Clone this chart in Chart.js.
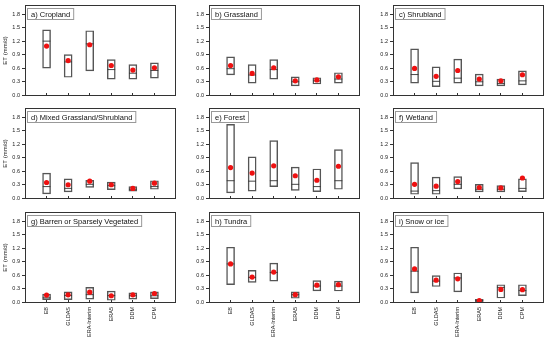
<!DOCTYPE html>
<html>
<head>
<meta charset="utf-8">
<script src="https://cdn.jsdelivr.net/npm/chart.js@4.4.0/dist/chart.umd.min.js"></script>
<style>
  body { margin: 0; background: #fff; width: 550px; height: 341px; position: relative; overflow: hidden; }
  .p { position: absolute; }
</style>
</head>
<body>
<script>
// ET by land cover: box = range, line = median, red dot = mean

const products = ['EB', 'GLDAS', 'ERA-Interim', 'ERA5', 'DDM', 'CPM'];
const yTicks = [0, 0.15, 0.3, 0.45, 0.6, 0.75, 0.9, 1.05, 1.2, 1.35, 1.5, 1.65, 1.8];
const yLabelled = [0, 0.3, 0.6, 0.9, 1.2, 1.5, 1.8];

// a) Cropland
const croplandLow = [0.60, 0.40, 0.54, 0.36, 0.36, 0.38];
const croplandHigh = [1.45, 0.90, 1.43, 0.79, 0.68, 0.72];
const croplandMedian = [1.20, 0.74, 1.14, 0.57, 0.49, 0.55];
const croplandMean = [1.09, 0.77, 1.12, 0.66, 0.56, 0.61];

// b) Grassland
const grasslandLow = [0.45, 0.27, 0.36, 0.21, 0.25, 0.27];
const grasslandHigh = [0.85, 0.68, 0.79, 0.41, 0.39, 0.50];
const grasslandMedian = [0.59, 0.45, 0.57, 0.30, 0.32, 0.36];
const grasslandMean = [0.66, 0.485, 0.61, 0.32, 0.34, 0.41];

// c) Shrubland
const shrublandLow = [0.27, 0.19, 0.27, 0.21, 0.21, 0.23];
const shrublandHigh = [1.03, 0.63, 0.80, 0.47, 0.36, 0.54];
const shrublandMedian = [0.46, 0.31, 0.38, 0.30, 0.26, 0.32];
const shrublandMean = [0.595, 0.42, 0.55, 0.36, 0.32, 0.455];

// d) Mixed Grassland/Shrubland
const mixedLow = [0.10, 0.14, 0.24, 0.19, 0.16, 0.20];
const mixedHigh = [0.56, 0.43, 0.40, 0.36, 0.26, 0.39];
const mixedMedian = [0.26, 0.22, 0.31, 0.28, 0.20, 0.26];
const mixedMean = [0.35, 0.30, 0.38, 0.30, 0.22, 0.335];

// e) Forest
const forestLow = [0.12, 0.16, 0.26, 0.175, 0.15, 0.20];
const forestHigh = [1.64, 0.92, 1.28, 0.69, 0.65, 1.08];
const forestMedian = [0.39, 0.38, 0.39, 0.31, 0.26, 0.39];
const forestMean = [0.68, 0.56, 0.72, 0.50, 0.40, 0.71];

// f) Wetland
const wetlandLow = [0.09, 0.09, 0.21, 0.14, 0.14, 0.15];
const wetlandHigh = [0.79, 0.47, 0.48, 0.31, 0.28, 0.43];
const wetlandMedian = [0.16, 0.17, 0.31, 0.20, 0.20, 0.22];
const wetlandMean = [0.31, 0.27, 0.37, 0.24, 0.23, 0.45];

// g) Barren or Sparsely Vegetated
const barrenLow = [0.06, 0.06, 0.07, 0.045, 0.07, 0.08];
const barrenHigh = [0.18, 0.23, 0.33, 0.25, 0.21, 0.23];
const barrenMedian = [0.10, 0.15, 0.17, 0.15, 0.145, 0.145];
const barrenMean = [0.16, 0.165, 0.225, 0.145, 0.165, 0.195];

// h) Tundra
const tundraLow = [0.39, 0.44, 0.47, 0.09, 0.255, 0.25];
const tundraHigh = [1.22, 0.71, 0.87, 0.23, 0.48, 0.47];
const tundraMedian = [0.85, 0.55, 0.66, 0.17, 0.36, 0.36];
const tundraMean = [0.85, 0.56, 0.67, 0.17, 0.38, 0.39];

// i) Snow or ice
const snowLow = [0.21, 0.35, 0.23, 0.01, 0.095, 0.15];
const snowHigh = [1.22, 0.59, 0.65, 0.065, 0.39, 0.39];
const snowMedian = [0.69, 0.47, 0.54, 0.04, 0.33, 0.26];
const snowMean = [0.74, 0.49, 0.52, 0.04, 0.285, 0.28];

const panels = [
  { title: 'a) Cropland', low: croplandLow, high: croplandHigh, med: croplandMedian, mean: croplandMean },
  { title: 'b) Grassland', low: grasslandLow, high: grasslandHigh, med: grasslandMedian, mean: grasslandMean },
  { title: 'c) Shrubland', low: shrublandLow, high: shrublandHigh, med: shrublandMedian, mean: shrublandMean },
  { title: 'd) Mixed Grassland/Shrubland', low: mixedLow, high: mixedHigh, med: mixedMedian, mean: mixedMean },
  { title: 'e) Forest', low: forestLow, high: forestHigh, med: forestMedian, mean: forestMean },
  { title: 'f) Wetland', low: wetlandLow, high: wetlandHigh, med: wetlandMedian, mean: wetlandMean },
  { title: 'g) Barren or Sparsely Vegetated', low: barrenLow, high: barrenHigh, med: barrenMedian, mean: barrenMean },
  { title: 'h) Tundra', low: tundraLow, high: tundraHigh, med: tundraMedian, mean: tundraMean },
  { title: 'i) Snow or ice', low: snowLow, high: snowHigh, med: snowMedian, mean: snowMean }
];

// plot area edges in page pixels
const cols = [[25, 177], [209, 361], [393, 545]];
const rows = [[4, 96], [107, 199], [211, 303]];
const HALF_BOX = 0.18; // half box width in x units

const FONT = '"Liberation Sans", Arial, sans-serif';

const framePlugin = {
  id: 'frame',
  afterDraw(chart, args, opts) {
    const a = chart.chartArea, ctx = chart.ctx;
    ctx.save();
    ctx.strokeStyle = '#333';
    ctx.lineWidth = 1;
    ctx.strokeRect(Math.round(a.left) + 0.5, Math.round(a.top) + 0.5,
      Math.round(a.right - a.left) - 1, Math.round(a.bottom - a.top) - 1);
    // panel label box
    ctx.font = '7.5px ' + FONT;
    const tw = ctx.measureText(opts.text).width;
    const bx = Math.round(a.left) + 2.5, by = Math.round(a.top) + 3.5;
    ctx.fillStyle = '#fff';
    ctx.fillRect(bx, by, tw + 7, 11);
    ctx.strokeStyle = '#999';
    ctx.strokeRect(bx, by, tw + 7, 11);
    ctx.fillStyle = '#111';
    ctx.textBaseline = 'middle';
    ctx.fillText(opts.text, bx + 3.5, by + 6);
    ctx.restore();
  }
};

function noPad(s) {
  s.paddingTop = 0; s.paddingBottom = 0; s.paddingLeft = 0; s.paddingRight = 0;
}

panels.forEach((p, k) => {
  const c = k % 3, r = Math.floor(k / 3);
  const [L, R] = cols[c], [T, B] = rows[r];
  const yw = c === 0 ? 25 : 28;
  const xh = r === 2 ? 341 - B : 6;
  const padT = 3, padR = 3;
  const w = R - L + yw + padR, h = B - T + padT + xh;

  const div = document.createElement('div');
  div.className = 'p';
  div.style.left = (L - yw) + 'px';
  div.style.top = (T - padT) + 'px';
  div.style.width = w + 'px';
  div.style.height = h + 'px';
  const cv = document.createElement('canvas');
  cv.width = w; cv.height = h;
  cv.style.width = w + 'px'; cv.style.height = h + 'px';
  div.appendChild(cv);
  document.body.appendChild(div);

  // median: one short segment per product, broken by null gaps
  const medianSegs = products.flatMap((n, i) => [
    { x: i + 1 - HALF_BOX, y: p.med[i] },
    { x: i + 1 + HALF_BOX, y: p.med[i] },
    { x: i + 1.5, y: null }
  ]);

  new Chart(cv, {
    type: 'bar',
    data: {
      datasets: [
        {
          type: 'line',
          showLine: false,
          data: products.map((n, i) => ({ x: i + 1, y: p.mean[i] })),
          pointStyle: 'circle',
          pointRadius: 2.6,
          pointBackgroundColor: '#ee1111',
          pointBorderWidth: 0
        },
        {
          type: 'line',
          data: medianSegs,
          spanGaps: false,
          borderColor: '#333',
          borderWidth: 0.9,
          pointRadius: 0
        },
        {
          type: 'bar',
          data: products.map((n, i) => ({ x: i + 1, y: [p.low[i], p.high[i]] })),
          barThickness: 8,
          backgroundColor: 'rgba(255,255,255,0)',
          borderColor: '#555',
          borderWidth: 0.8,
          borderSkipped: false
        }
      ]
    },
    options: {
      responsive: false,
      animation: false,
      devicePixelRatio: 1,
      layout: { padding: { top: padT, right: padR, left: 0, bottom: 0 } },
      plugins: {
        legend: { display: false },
        tooltip: { enabled: false },
        frame: { text: p.title }
      },
      scales: {
        x: {
          type: 'linear',
          min: 0,
          max: 7,
          offset: false,
          afterBuildTicks: s => { s.ticks = products.map((n, i) => ({ value: i + 1 })); },
          afterFit: s => { s.height = xh; noPad(s); },
          grid: { display: true, offset: false, drawOnChartArea: false, drawTicks: true, tickLength: -3, color: '#333' },
          border: { display: false },
          ticks: {
            display: r === 2,
            autoSkip: false,
            minRotation: 90,
            maxRotation: 90,
            padding: 7,
            font: { family: FONT, size: 5.5 },
            color: '#222',
            callback: (v, i) => products[i]
          }
        },
        y: {
          min: -0.015,
          max: 2.0,
          afterBuildTicks: s => { s.ticks = yTicks.map(v => ({ value: v })); },
          afterFit: s => { s.width = yw; noPad(s); },
          grid: { display: true, drawOnChartArea: false, drawTicks: true, tickLength: 3, color: '#333' },
          border: { display: false },
          title: {
            display: c === 0,
            text: 'ET (mm/d)',
            font: { family: FONT, size: 6 },
            color: '#222',
            padding: { top: 2, bottom: 0 }
          },
          ticks: {
            padding: 2,
            font: { family: FONT, size: 5.5 },
            color: '#222',
            callback: v => yLabelled.some(m => Math.abs(m - v) < 1e-6) ? v.toFixed(1) : ''
          }
        }
      }
    },
    plugins: [framePlugin]
  });
});
</script>
</body>
</html>
